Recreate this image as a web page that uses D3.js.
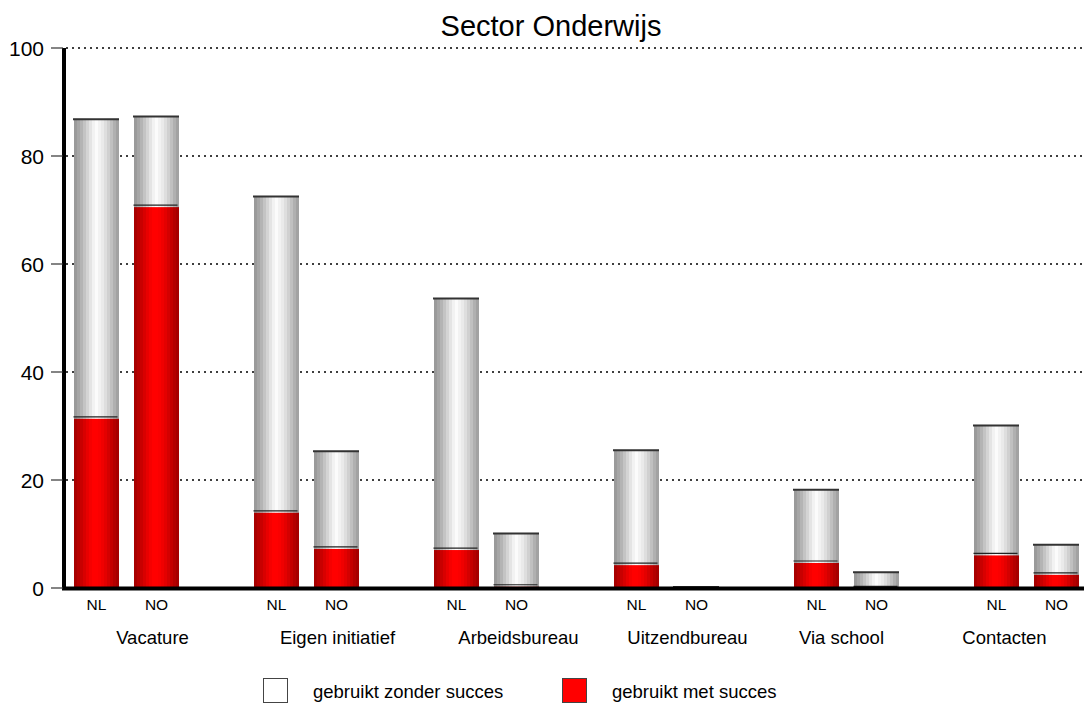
<!DOCTYPE html>
<html>
<head>
<meta charset="utf-8">
<script src="https://cdn.jsdelivr.net/npm/d3@7"></script>
<style>
  body { margin: 0; background: #fff; }
  text { font-family: "Liberation Sans", Arial, sans-serif; fill: #000; }
</style>
</head>
<body>
<svg id="chart" width="1086" height="707"></svg>
<script>
// data
const categories = ['Vacature', 'Eigen initiatief', 'Arbeidsbureau', 'Uitzendbureau', 'Via school', 'Contacten'];
const countries = ['NL', 'NO'];
// total share that used the channel (with + without success)
const totalNL = [86.9, 72.6, 53.7, 25.6, 18.3, 30.2];
const totalNO = [87.4, 25.4, 10.2, 0.3, 3.0, 8.1];
// share that used it with success
const successNL = [31.7, 14.3, 7.4, 4.6, 5.0, 6.4];
const successNO = [70.9, 7.6, 0.6, 0, 0.3, 2.8];
const yTicks = [0, 20, 40, 60, 80, 100];
const legendLabels = ['gebruikt zonder succes', 'gebruikt met succes'];

// group labels are not centred under their bars in the original
const labelShift = [26, 31, 32, 21, -5, -22];

const svg = d3.select('#chart');

const y = d3.scaleLinear().domain([0, 100]).range([588, 48]);
const xGroup = d3.scalePoint().domain(categories).range([126.5, 1026.5]);
const xInner = d3.scaleBand().domain(countries).range([-52.5, 52.5]).paddingInner(0.25);

const rows = [];
categories.forEach((c, i) => {
  rows.push({cat: c, country: 'NL', total: totalNL[i], success: successNL[i]});
  rows.push({cat: c, country: 'NO', total: totalNO[i], success: successNO[i]});
});

// banded cylinder-like gradients
const defs = svg.append('defs');
const makeGrad = (id, cols) => {
  const g = defs.append('linearGradient').attr('id', id)
    .attr('x1', '0%').attr('x2', '100%').attr('y1', '0%').attr('y2', '0%');
  const n = cols.length;
  cols.forEach((c, i) => {
    g.append('stop').attr('offset', (i / n * 100) + '%').attr('stop-color', c);
    g.append('stop').attr('offset', ((i + 1) / n * 100) + '%').attr('stop-color', c);
  });
};
makeGrad('grey', ['#9a9a9a', '#a6a6a6', '#b4b4b4', '#c4c4c4', '#d4d4d4', '#e4e4e4', '#f2f2f2', '#fbfbfb',
  '#f2f2f2', '#eaeaea', '#dedede', '#d0d0d0', '#c0c0c0', '#b0b0b0', '#a2a2a2']);
makeGrad('red', ['#a80000', '#b80000', '#c80000', '#d80000', '#e80000', '#f60000', '#ff0000', '#ff0000',
  '#fa0000', '#f00000', '#e40000', '#d40000', '#c40000', '#b40000', '#a60000']);

// gridlines
svg.append('g').selectAll('line')
  .data(yTicks.filter(d => d > 0))
  .join('line')
  .attr('x1', 66).attr('x2', 1083)
  .attr('y1', d => y(d)).attr('y2', d => y(d))
  .attr('stroke', '#000').attr('stroke-width', 1.5)
  .attr('stroke-dasharray', '2,4');

// bars
const bars = svg.append('g').selectAll('g')
  .data(rows)
  .join('g')
  .attr('transform', d => `translate(${xGroup(d.cat) + xInner(d.country)},0)`);

const bw = xInner.bandwidth();

bars.append('rect')
  .attr('x', 0).attr('width', bw)
  .attr('y', d => y(d.total))
  .attr('height', d => y(0) - y(d.total))
  .attr('fill', 'url(#grey)');

bars.filter(d => d.success > 0).append('rect')
  .attr('x', 0).attr('width', bw)
  .attr('y', d => y(d.success) + 2)
  .attr('height', d => Math.max(0, y(0) - y(d.success) - 2))
  .attr('fill', 'url(#red)');

// divider line between the two parts
bars.filter(d => d.success > 0).append('line')
  .attr('x1', -0.5).attr('x2', bw - 1.5)
  .attr('y1', d => y(d.success)).attr('y2', d => y(d.success))
  .attr('stroke', '#222').attr('stroke-width', 1.2);

// top edge
bars.append('line')
  .attr('x1', -1).attr('x2', bw)
  .attr('y1', d => y(d.total) + 0.5).attr('y2', d => y(d.total) + 0.5)
  .attr('stroke', '#333').attr('stroke-width', 2);

// axes
svg.append('line')
  .attr('x1', 62).attr('x2', 1084)
  .attr('y1', y(0) + 0.5).attr('y2', y(0) + 0.5)
  .attr('stroke', '#000').attr('stroke-width', 4);
svg.append('line')
  .attr('x1', 64).attr('x2', 64)
  .attr('y1', y(100)).attr('y2', y(0) + 2)
  .attr('stroke', '#000').attr('stroke-width', 4);

const yAxis = svg.append('g');
yAxis.selectAll('line')
  .data(yTicks)
  .join('line')
  .attr('x1', 51).attr('x2', 63)
  .attr('y1', d => y(d)).attr('y2', d => y(d))
  .attr('stroke', '#333').attr('stroke-width', 1.2);
yAxis.selectAll('text')
  .data(yTicks)
  .join('text')
  .attr('x', 44).attr('y', d => y(d) + 7.5)
  .attr('text-anchor', 'end')
  .attr('font-size', 21)
  .text(d => d);

// country labels
svg.append('g').selectAll('text')
  .data(rows)
  .join('text')
  .attr('x', d => xGroup(d.cat) + xInner(d.country) + bw / 2)
  .attr('y', 610)
  .attr('text-anchor', 'middle')
  .attr('font-size', 15.5)
  .text(d => d.country);

// category labels
svg.append('g').selectAll('text')
  .data(categories)
  .join('text')
  .attr('x', (d, i) => xGroup(d) + labelShift[i])
  .attr('y', 644)
  .attr('text-anchor', 'middle')
  .attr('font-size', 18.5)
  .text(d => d);

// title
svg.append('text')
  .attr('x', 551).attr('y', 36)
  .attr('text-anchor', 'middle')
  .attr('font-size', 29)
  .text('Sector Onderwijs');

// legend
const legend = svg.append('g').selectAll('g')
  .data(legendLabels)
  .join('g')
  .attr('transform', (d, i) => `translate(${263 + i * 299},678)`);
legend.append('rect')
  .attr('x', 0.5).attr('y', 0.5).attr('width', 24).attr('height', 24)
  .attr('fill', (d, i) => i === 0 ? '#fff' : '#ff0000')
  .attr('stroke', '#444').attr('stroke-width', 1);
legend.append('text')
  .attr('x', 50).attr('y', 20)
  .attr('font-size', 18.5)
  .text(d => d);
</script>
</body>
</html>
